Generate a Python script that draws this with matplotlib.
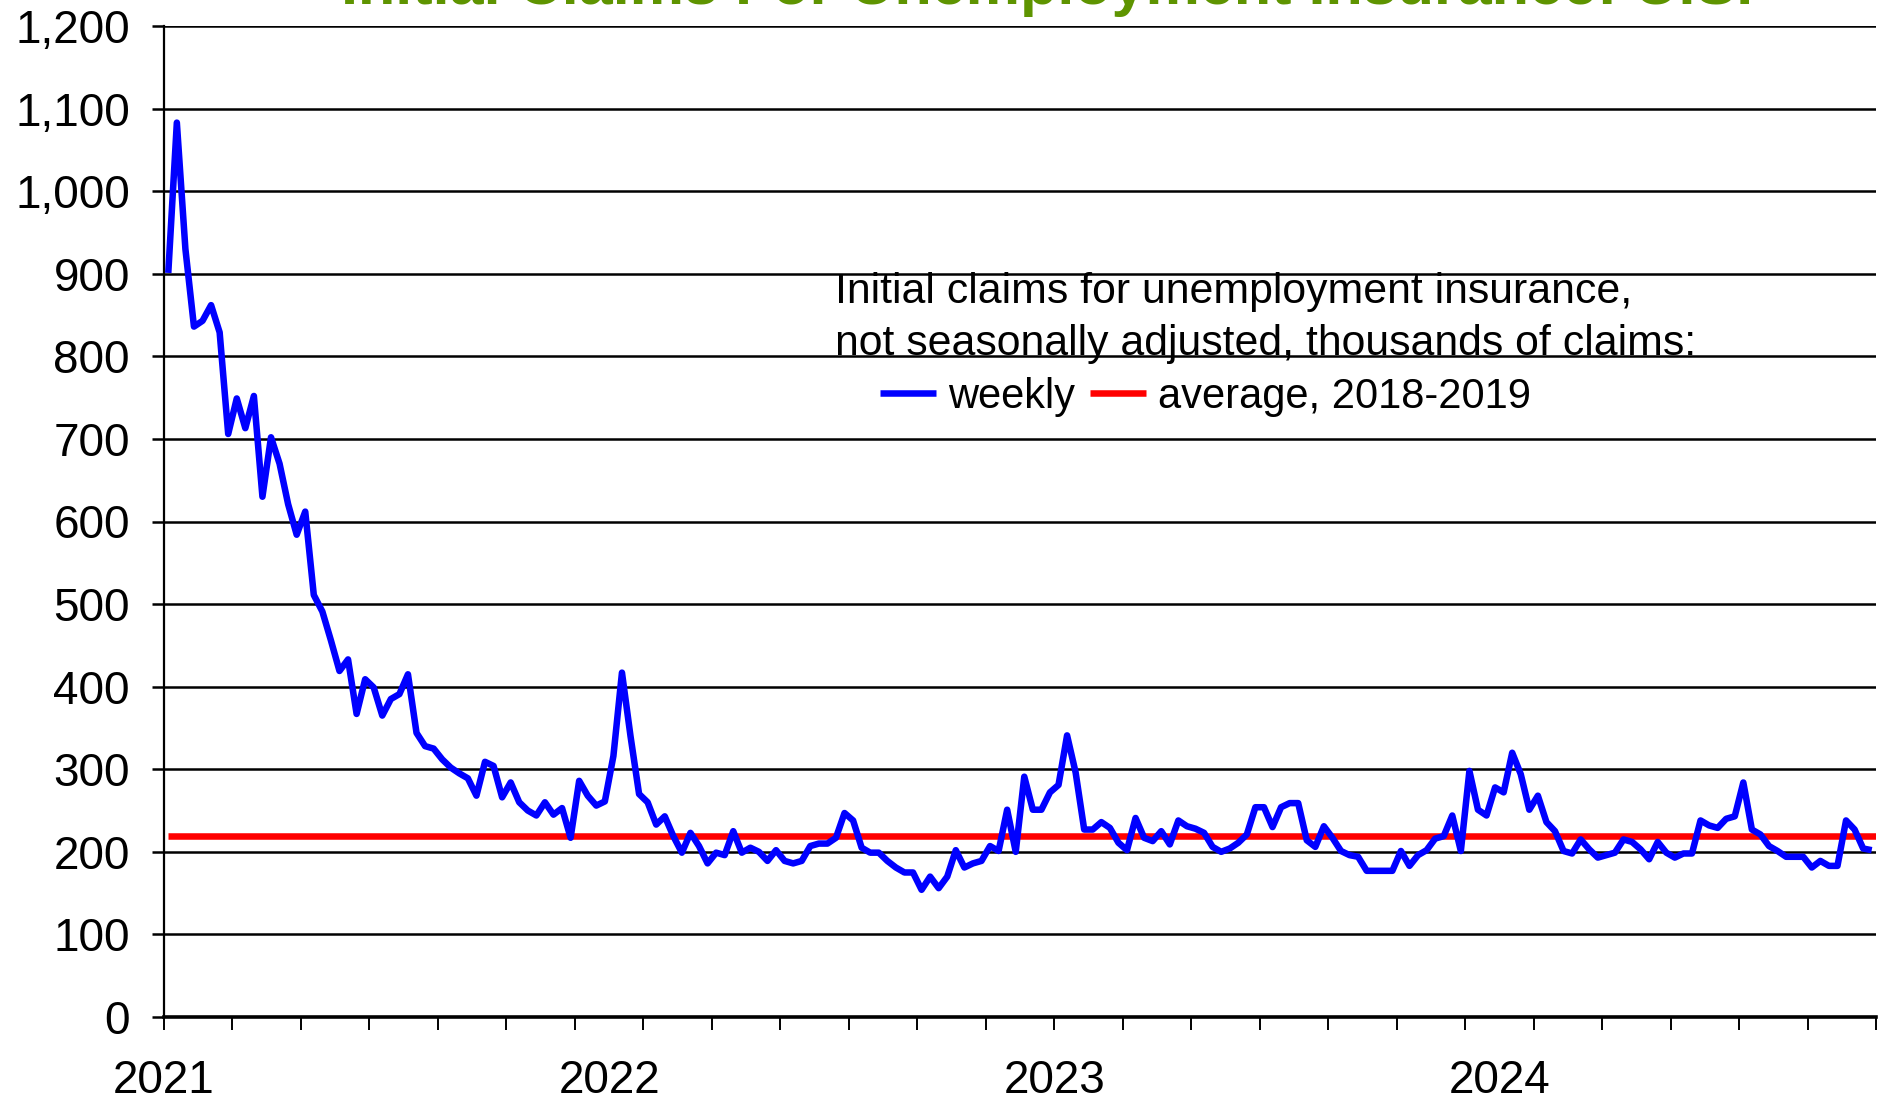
import numpy as np
import matplotlib
matplotlib.use("Agg")
import matplotlib.pyplot as plt
from matplotlib.ticker import FuncFormatter, MultipleLocator
from matplotlib.transforms import blended_transform_factory

plt.rcParams["font.family"] = ["Liberation Sans", "DejaVu Sans"]

# weekly initial claims, NSA, thousands (first week of 2021 onward)
weekly_claims = [
    901, 1083, 930, 836, 843, 862, 829, 706, 749, 713,
    752, 630, 702, 670, 621, 584, 612, 511, 491, 456,
    419, 433, 367, 409, 399, 365, 385, 391, 415, 344,
    328, 325, 312, 302, 295, 289, 268, 309, 304, 266,
    284, 260, 250, 244, 260, 245, 253, 217, 286, 268,
    256, 261, 316, 417, 340, 270, 260, 233, 243, 219,
    199, 223, 207, 186, 199, 196, 225, 199, 205, 200,
    189, 202, 189, 186, 189, 207, 210, 210, 217, 247,
    238, 205, 199, 199, 189, 181, 175, 175, 154, 170,
    156, 170, 202, 181, 186, 189, 207, 201, 251, 200,
    291, 251, 251, 272, 281, 341, 296, 227, 227, 236,
    229, 211, 202, 241, 217, 213, 225, 209, 238, 231,
    228, 223, 206, 200, 204, 211, 221, 254, 254, 230,
    254, 259, 259, 214, 206, 231, 217, 201, 196, 194,
    177, 177, 177, 177, 201, 183, 196, 202, 216, 219,
    244, 201, 298, 251, 244, 278, 272, 320, 294, 251,
    268, 236, 225, 201, 198, 215, 203, 193, 196, 199,
    215, 212, 203, 191, 212, 199, 193, 198, 198, 238,
    232, 229, 240, 243, 284, 227, 221, 207, 201, 194,
    194, 194, 181, 189, 183, 183, 238, 227, 204, 202,
]
avg_2018_2019 = 219
year_labels = ["2021", "2022", "2023", "2024"]
year_label_weeks = [0, 52, 104, 156]
n_weeks_axis = 200

fig = plt.figure(figsize=(18.78, 11.02), dpi=100)
ax = fig.add_axes([164 / 1878, 1 - 1017 / 1102, 1712 / 1878, 991 / 1102])

x = np.arange(len(weekly_claims)) + 0.5
line_w, = ax.plot(x, weekly_claims, color="#0000ff", lw=4.7,
                  solid_joinstyle="round", solid_capstyle="butt", zorder=4,
                  label="weekly")
line_a = ax.hlines(avg_2018_2019, x[0], n_weeks_axis, color="#ff0000", lw=4.7,
                   zorder=3, label="average, 2018-2019")

ax.set_xlim(0, n_weeks_axis)
ax.set_ylim(0, 1200)
ax.yaxis.set_major_locator(MultipleLocator(100))
ax.yaxis.set_major_formatter(FuncFormatter(lambda v, p: f"{int(v):,}"))
ax.grid(axis="y", color="black", lw=1.8)
ax.set_axisbelow(True)

ax.set_xticks(np.arange(0, n_weeks_axis + 1, 8))
ax.set_xticklabels([])
ax.tick_params(axis="x", direction="out", length=9.5, width=1.4, color="black")
ax.tick_params(axis="y", direction="out", length=8.6, width=1.8, pad=16,
               labelsize=33, color="black")

for s in ["top", "right"]:
    ax.spines[s].set_visible(False)
ax.spines["left"].set_linewidth(1.6)
ax.spines["bottom"].set_linewidth(2.6)

trans = blended_transform_factory(ax.transData, fig.transFigure)
for wk, lab in zip(year_label_weeks, year_labels):
    ax.text(wk, 1 - 1081 / 1102, lab, transform=trans, ha="center",
            va="center", fontsize=33, clip_on=False)

fig.text(1047 / 1878, 1 - 4 / 1102, "Initial Claims For Unemployment Insurance: U.S.",
         ha="center", va="baseline", fontsize=44, fontweight="bold",
         color="#5e9400")

fig.text(835 / 1878, 1 - 303 / 1102, "Initial claims for unemployment insurance,",
         ha="left", va="baseline", fontsize=30.8)
fig.text(835 / 1878, 1 - 354.5 / 1102, "not seasonally adjusted, thousands of claims:",
         ha="left", va="baseline", fontsize=30.8)

ax.legend(handles=[line_w, line_a], loc="center left",
          bbox_to_anchor=(880 / 1878, 1 - 396.5 / 1102),
          bbox_transform=fig.transFigure, ncol=2, frameon=False,
          fontsize=30, borderpad=0, borderaxespad=0, handlelength=1.35,
          handletextpad=0.29, columnspacing=0.34)

fig.savefig("out.png", dpi=100)
